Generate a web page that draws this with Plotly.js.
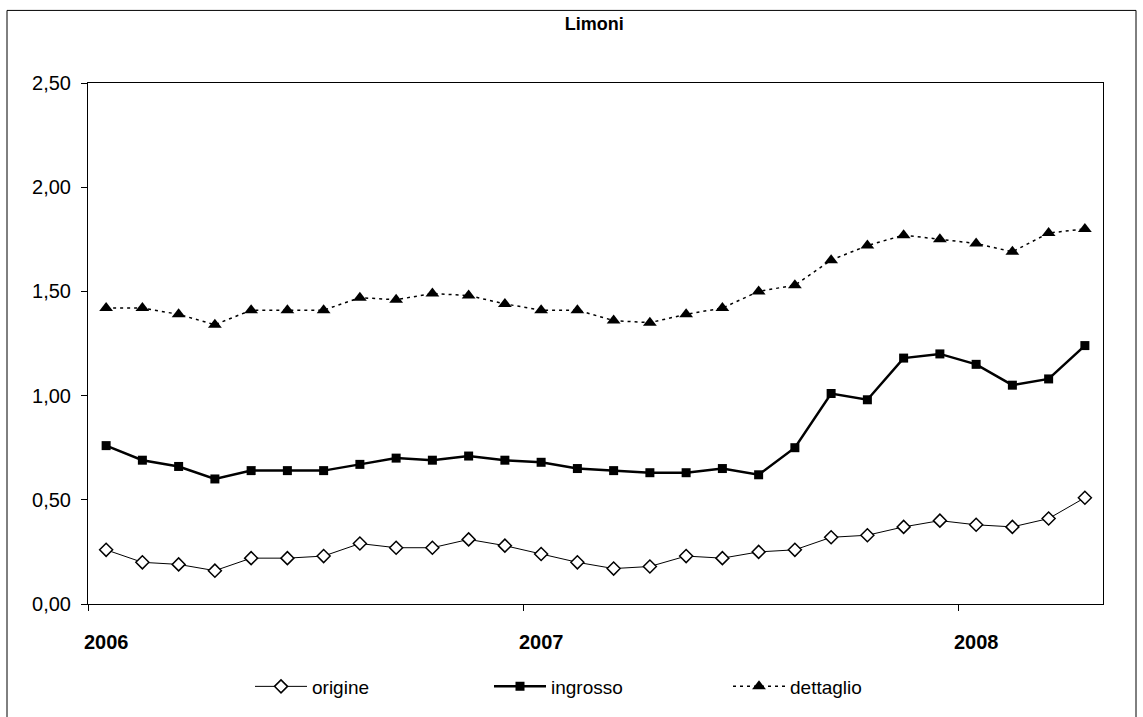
<!DOCTYPE html>
<html>
<head>
<meta charset="utf-8">
<script src="https://cdn.plot.ly/plotly-3.0.1.min.js"></script>
<style>
html,body{margin:0;padding:0;background:#fff;}
#chart{width:1143px;height:717px;}
</style>
</head>
<body>
<div id="chart"></div>
<script>
// Monthly prices, Jan 2006 - Apr 2008
const months = [0,1,2,3,4,5,6,7,8,9,10,11,12,13,14,15,16,17,18,19,20,21,22,23,24,25,26,27];
const yearTickPositions = [0, 12, 24];
const yearTickLabels = ["2006", "2007", "2008"];
const yearBoundaries = [-0.5, 11.5, 23.5];

const origine = [0.26,0.20,0.19,0.16,0.22,0.22,0.23,0.29,0.27,0.27,0.31,0.28,0.24,0.20,0.17,0.18,0.23,0.22,0.25,0.26,0.32,0.33,0.37,0.40,0.38,0.37,0.41,0.51];
const ingrosso = [0.76,0.69,0.66,0.60,0.64,0.64,0.64,0.67,0.70,0.69,0.71,0.69,0.68,0.65,0.64,0.63,0.63,0.65,0.62,0.75,1.01,0.98,1.18,1.20,1.15,1.05,1.08,1.24];
const dettaglio = [1.42,1.42,1.39,1.34,1.41,1.41,1.41,1.47,1.46,1.49,1.48,1.44,1.41,1.41,1.36,1.35,1.39,1.42,1.50,1.53,1.65,1.72,1.77,1.75,1.73,1.69,1.78,1.80];

const traces = [
  {
    x: months, y: origine, name: "origine", type: "scatter", mode: "lines+markers",
    line: {color: "#000", width: 1},
    marker: {symbol: "diamond", size: 10, color: "#fff", line: {color: "#000", width: 1.5}}
  },
  {
    x: months, y: ingrosso, name: "ingrosso", type: "scatter", mode: "lines+markers",
    line: {color: "#000", width: 2.5},
    marker: {symbol: "square", size: 9, color: "#000"}
  },
  {
    x: months, y: dettaglio, name: "dettaglio", type: "scatter", mode: "lines+markers",
    line: {color: "#000", width: 1.5, dash: "3px,4px"},
    marker: {symbol: "triangle-up", size: 12, color: "#000"}
  }
];

const L = 88, R = 1103, T = 83, B = 607, W = 1143, H = 717;
const pw = R - L, ph = B - T;
const FONT = "Liberation Sans, Arial, sans-serif";

const layout = {
  width: W, height: H,
  margin: {l: L, r: W - R, t: T, b: H - B},
  paper_bgcolor: "#fff", plot_bgcolor: "#fff",
  separators: ",.",
  font: {family: FONT, color: "#000"},
  title: {
    text: "<b>Limoni</b>",
    font: {size: 18, family: FONT, color: "#000"},
    x: 0.52, xanchor: "center", y: 1 - 24 / H, yanchor: "middle"
  },
  xaxis: {
    range: [-0.5, 27.5],
    tickvals: yearTickPositions, ticktext: yearTickLabels,
    ticks: "", showgrid: false, zeroline: false,
    showline: true, linecolor: "#000", linewidth: 1, mirror: true,
    tickfont: {size: 20, family: FONT, color: "#000", weight: "bold"},
    ticklabelstandoff: 20,
    minor: {tickvals: yearBoundaries, ticks: "outside", ticklen: 6, tickcolor: "#000", tickwidth: 1, showgrid: false}
  },
  yaxis: {
    range: [0, 2.5],
    tickvals: [0, 0.5, 1, 1.5, 2, 2.5],
    tickformat: ".2f",
    ticks: "outside", ticklen: 6, tickcolor: "#000",
    showgrid: false, zeroline: false,
    showline: true, linecolor: "#000", linewidth: 1, mirror: true,
    tickfont: {size: 20, family: FONT, color: "#000"},
    ticklabelstandoff: 6
  },
  showlegend: true,
  legend: {
    orientation: "h", x: (250 - L) / pw, xanchor: "left",
    y: (B - 690) / ph, yanchor: "middle",
    font: {size: 19, family: FONT, color: "#000"},
    itemwidth: 52,
    entrywidth: 172, bgcolor: "rgba(0,0,0,0)"
  },
  shapes: [
    {
      type: "rect", xref: "paper", yref: "paper",
      x0: (7 - L) / pw, x1: (1136 - L) / pw,
      y0: (B - 730) / ph, y1: (B - 10) / ph,
      line: {color: "#000", width: 1}, fillcolor: "rgba(0,0,0,0)", layer: "below"
    }
  ]
};

Plotly.newPlot("chart", traces, layout, {displayModeBar: false, staticPlot: true});
</script>
</body>
</html>
